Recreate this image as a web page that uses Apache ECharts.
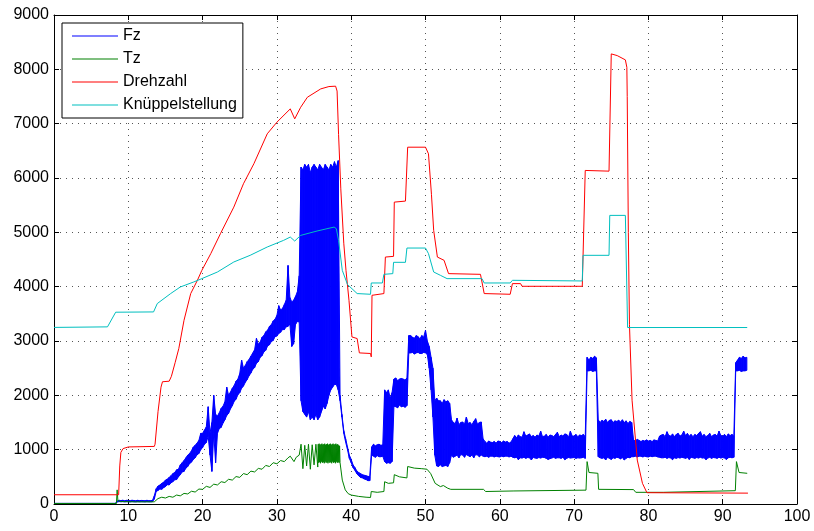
<!DOCTYPE html>
<html>
<head>
<meta charset="utf-8">
<script src="https://cdn.jsdelivr.net/npm/echarts@6/dist/echarts.min.js"></script>
<style>
  html, body { margin: 0; padding: 0; background: #fff; }
  #chart { width: 814px; height: 531px; }
</style>
</head>
<body>
<div id="chart"></div>
<script>
// Axis ranges and tick spacing
const xMin = 0, xMax = 100, xStep = 10;
const yMin = 0, yMax = 9000, yStep = 1000;

const seriesNames = ['Fz', 'Tz', 'Drehzahl', 'Knüppelstellung'];
const seriesColors = ['#0000ff', '#008000', '#ff0000', '#00bfbf'];

// Fz is a fast, noisy signal: stored as its min/max envelope,
// one value every 0.25 s starting at t = 0 (one line per second)
const fzStart = 0;
const fzStep = 0.25;
const fzLow = [
  3, 3, 3, 3,
  3, 3, 3, 3,
  3, 3, 3, 3,
  3, 3, 3, 3,
  3, 3, 3, 3,
  3, 3, 3, 3,
  3, 3, 3, 3,
  3, 3, 3, 3,
  3, 3, 35, 45,
  40, 44, 38, 42,
  42, 38, 44, 40,
  38, 43, 40, 42,
  41, 38, 43, 40,
  40, 42, 90, 230,
  250, 275, 270, 300,
  320, 355, 350, 390,
  410, 445, 450, 500,
  540, 590, 600, 660,
  690, 745, 770, 820,
  850, 905, 930, 1000,
  1040, 1100, 1130, 1250,
  900, 600, 1300, 760,
  1300, 1390, 1410, 1490,
  1550, 1630, 1670, 1750,
  1810, 1890, 1930, 2010,
  2050, 2130, 2170, 2240,
  2290, 2360, 2410, 2480,
  2510, 2590, 2620, 2700,
  2730, 2800, 2830, 2910,
  2930, 2990, 3010, 3080,
  3090, 3140, 3160, 3210,
  3210, 3260, 3270, 3310,
  2900, 2950, 3300, 3360,
  3350, 1900, 1700, 1650,
  1600, 1700, 1550, 1600,
  1550, 1650, 1550, 1600,
  1700, 1800, 1750, 1850,
  2000, 2100, 2150, 2200,
  2200, 2100, 1900, 1600,
  1300, 1140, 1000, 840,
  760, 670, 620, 560,
  520, 490, 480, 460,
  450, 430, 430, 900,
  880, 860, 890, 870,
  870, 880, 780, 750,
  760, 750, 780, 1800,
  1790, 1770, 1820, 1790,
  1800, 1780, 1810, 2780,
  2780, 2790, 2760, 2780,
  2790, 2770, 2770, 2790,
  2780, 2750, 2500, 2100,
  1600, 900, 700, 690,
  720, 690, 700, 710,
  690, 760, 900, 860,
  880, 900, 850, 910,
  900, 860, 910, 890,
  870, 900, 850, 910,
  900, 870, 900, 880,
  870, 880, 860, 880,
  880, 865, 880, 870,
  865, 880, 870, 880,
  880, 865, 880, 860,
  850, 860, 815, 850,
  845, 860, 840, 855,
  850, 810, 860, 845,
  840, 855, 845, 860,
  855, 840, 820, 835,
  845, 860, 840, 850,
  850, 840, 860, 815,
  840, 855, 845, 850,
  855, 840, 850, 845,
  850, 860, 840, 2450,
  2450, 2460, 2440, 2450,
  2450, 870, 850, 840,
  850, 810, 860, 840,
  820, 850, 840, 860,
  850, 830, 855, 810,
  840, 860, 850, 870,
  870, 880, 865, 880,
  880, 865, 880, 870,
  865, 880, 870, 880,
  880, 865, 860, 850,
  850, 860, 840, 855,
  845, 815, 850, 840,
  855, 845, 860, 850,
  840, 855, 820, 860,
  850, 840, 855, 845,
  860, 845, 850, 815,
  845, 860, 840, 855,
  850, 840, 860, 845,
  855, 845, 820, 850,
  860, 850, 860, 2450,
  2450, 2460, 2440, 2450,
  2450, 2460
];
const fzHigh = [
  12, 12, 12, 12,
  12, 12, 12, 12,
  12, 12, 12, 12,
  12, 12, 12, 12,
  12, 12, 12, 12,
  12, 12, 12, 12,
  12, 12, 12, 12,
  12, 12, 12, 12,
  12, 12, 55, 70,
  62, 70, 60, 68,
  66, 60, 70, 64,
  60, 68, 62, 66,
  64, 60, 68, 62,
  62, 66, 150, 280,
  330, 350, 380, 400,
  440, 460, 490, 520,
  560, 580, 630, 640,
  720, 760, 800, 850,
  900, 930, 980, 1050,
  1080, 1120, 1170, 1300,
  1300, 1360, 1420, 1790,
  1300, 1500, 2000, 1650,
  1620, 1680, 1760, 1800,
  1880, 2150, 2000, 2060,
  2130, 2180, 2260, 2300,
  2400, 2650, 2500, 2550,
  2620, 2660, 2720, 2780,
  2840, 3050, 2940, 2980,
  3070, 3100, 3170, 3200,
  3270, 3300, 3370, 3400,
  3470, 3650, 3570, 3600,
  3670, 3750, 4390, 3800,
  3720, 3750, 3820, 3900,
  4200, 6200, 6150, 6250,
  6200, 6250, 6100, 6200,
  6250, 6200, 6150, 6250,
  6200, 6150, 6250, 6200,
  6150, 6250, 6200, 6300,
  6200, 6320, 2000, 1650,
  1350, 1200, 1050, 900,
  820, 720, 670, 610,
  580, 560, 540, 530,
  520, 510, 500, 1050,
  1100, 1070, 1090, 1100,
  1080, 1090, 2100, 2050,
  2100, 1950, 2050, 2300,
  2320, 2270, 2300, 2310,
  2300, 2280, 2320, 3100,
  3100, 3070, 3050, 3100,
  3080, 3040, 3100, 3070,
  3200, 3000, 2900, 2700,
  2500, 1900, 1950, 1900,
  1900, 1850, 1920, 1880,
  1900, 1850, 1550, 1500,
  1480, 1580, 1460, 1500,
  1510, 1470, 1600, 1480,
  1500, 1460, 1520, 1570,
  1470, 1500, 1510, 1200,
  1150, 1120, 1160, 1140,
  1130, 1150, 1120, 1160,
  1150, 1130, 1160, 1140,
  1150, 1120, 1140, 1200,
  1260, 1220, 1270, 1240,
  1230, 1330, 1250, 1270,
  1290, 1240, 1260, 1230,
  1270, 1250, 1340, 1240,
  1250, 1280, 1230, 1270,
  1260, 1240, 1280, 1320,
  1240, 1270, 1250, 1290,
  1280, 1230, 1340, 1250,
  1250, 1280, 1240, 1270,
  1260, 1280, 1240, 2700,
  2650, 2700, 2680, 2720,
  2690, 1550, 1500, 1540,
  1520, 1560, 1500, 1540,
  1550, 1500, 1530, 1520,
  1540, 1510, 1550, 1500,
  1530, 1480, 1520, 1500,
  1180, 1160, 1190, 1170,
  1150, 1170, 1160, 1180,
  1160, 1170, 1150, 1180,
  1170, 1160, 1250, 1270,
  1280, 1240, 1330, 1260,
  1250, 1290, 1240, 1280,
  1300, 1250, 1270, 1340,
  1260, 1300, 1250, 1280,
  1240, 1280, 1260, 1300,
  1330, 1250, 1280, 1240,
  1260, 1300, 1240, 1270,
  1280, 1250, 1340, 1260,
  1250, 1280, 1240, 1290,
  1260, 1280, 1250, 2600,
  2650, 2700, 2680, 2720,
  2690, 2700
];

// Tz: [time s, value]
const tzPoints = [
  [0, 10], [8.4, 10], [8.5, 260], [8.6, 60], [9, 45], [11, 40], [13.5, 40],
  [14, 100], [14.5, 125], [15, 110], [15.5, 140], [16, 125], [16.5, 165],
  [17, 150], [17.5, 195], [18, 185], [18.5, 235], [19, 220], [19.5, 275],
  [20, 270], [20.5, 325], [21, 305], [21.5, 365], [22, 350], [22.5, 410],
  [23, 395], [23.5, 455], [24, 440], [24.5, 505], [25, 490], [25.5, 560],
  [26, 540], [26.5, 605], [27, 590], [27.5, 655], [28, 640], [28.5, 710],
  [29, 690], [29.5, 760], [30, 740], [30.5, 800], [31, 780], [31.5, 850],
  [31.8, 880], [32.3, 780], [32.6, 860], [33, 900],
  [33.25, 1100], [33.5, 650], [33.75, 1080], [34, 700], [34.25, 1100],
  [34.5, 640], [34.75, 1090], [35, 720], [35.25, 1100], [35.5, 680],
  [35.5625, 1100], [35.625, 760], [35.6875, 1110], [35.75, 770],
  [35.8125, 1090], [35.875, 750], [35.9375, 1100], [36, 780],
  [36.0625, 1110], [36.125, 760], [36.1875, 1090], [36.25, 770],
  [36.3125, 1100], [36.375, 750], [36.4375, 1110], [36.5, 780],
  [36.5625, 1090], [36.625, 760], [36.6875, 1100], [36.75, 770],
  [36.8125, 1110], [36.875, 750], [36.9375, 1090], [37, 780],
  [37.0625, 1100], [37.125, 760], [37.1875, 1110], [37.25, 770],
  [37.3125, 1090], [37.375, 750], [37.4375, 1100], [37.5, 780],
  [37.5625, 1110], [37.625, 760], [37.6875, 1090], [37.75, 770],
  [37.8125, 1100], [37.875, 750], [37.9375, 1110], [38, 780],
  [38.0625, 1090], [38.125, 760], [38.1875, 1100], [38.25, 770],
  [38.3125, 1080], [38.375, 760], [38.4375, 1070], [38.5, 760],
  [38.8, 440], [39.2, 260], [39.6, 190], [40, 165], [41, 140], [42, 125],
  [42.6, 120], [42.7, 230], [43.5, 215], [44.4, 230], [44.5, 410], [45, 380],
  [45.7, 390], [45.8, 540], [46.5, 500], [47.5, 480], [47.6, 690], [48.5, 660],
  [49.5, 650], [50.2, 640], [50.7, 560], [51.3, 380], [52, 320], [52.4, 340],
  [53, 290], [53.4, 270], [57.8, 270], [58.1, 230], [61.9, 240], [62.1, 270],
  [71.6, 255], [71.75, 780], [72, 580], [73.2, 565], [73.3, 270], [78, 265],
  [78.3, 215], [82, 215], [82.2, 235], [91.7, 245], [91.85, 780], [92.2, 580],
  [93.3, 565]
];

// Drehzahl: [time s, value]
const drehzahlPoints = [
  [0, 170], [8.7, 170], [8.85, 700], [9.0, 950], [9.3, 1020], [10, 1050],
  [13.5, 1060], [13.6, 1100], [14.0, 1700], [14.4, 2150], [14.6, 2250],
  [15.5, 2260], [15.8, 2350], [16.3, 2600], [16.8, 2862], [17.5, 3382],
  [18.4, 3873], [19.3, 4117], [19.9, 4300], [21.1, 4608], [22.4, 4975],
  [24.2, 5464], [25.5, 5894], [26.9, 6262], [28.7, 6813], [30.0, 7027],
  [31.8, 7272], [32.4, 7089], [33.2, 7302], [34.1, 7486], [35.9, 7640],
  [37.0, 7683], [37.9, 7690], [38.1, 7600], [38.3, 6800], [38.6, 5800],
  [39.0, 4800], [39.3, 4300], [39.7, 3750], [40.1, 3075], [40.8, 3045],
  [41.1, 2781], [42.6, 2770], [42.7, 2708], [42.8, 3841], [44.4, 3873],
  [44.6, 4545], [45.7, 4558], [45.8, 5556], [47.3, 5575], [47.6, 6567],
  [50.0, 6567], [50.4, 6446], [50.8, 5700], [51.1, 5036], [51.6, 4545],
  [52.5, 4485], [53.1, 4240], [57.4, 4227], [57.6, 4209], [57.9, 3873],
  [61.4, 3860], [61.7, 4056], [62.8, 4056], [63.0, 4007], [71.1, 4007],
  [71.5, 6139], [74.7, 6126], [75.0, 8284], [75.8, 8253], [76.9, 8174],
  [77.1, 8037], [77.15, 7500], [77.3, 5000], [77.45, 3300], [77.8, 1911],
  [78.5, 809], [79.2, 380], [79.8, 208], [93.4, 200]
];

// Knüppelstellung: [time s, value]
const knueppelPoints = [
  [0, 3250], [7.2, 3260], [8.3, 3530], [13.4, 3535], [13.9, 3689],
  [15.7, 3873], [17.0, 3994], [18.8, 4086], [19.9, 4148], [22.0, 4270],
  [24.2, 4454], [26.4, 4577], [28.7, 4730], [30.9, 4852], [31.8, 4913],
  [32.4, 4840], [33.2, 4944], [35.4, 5024], [37.7, 5097], [38.0, 5067],
  [38.3, 4852], [38.8, 4300], [39.5, 4040], [40.8, 3873], [42.6, 3860],
  [42.7, 4068], [44.2, 4068], [44.4, 4227], [45.6, 4240], [45.7, 4448],
  [47.3, 4448], [47.5, 4711], [50.0, 4711], [50.4, 4608], [51.1, 4270],
  [52.0, 4209], [52.9, 4148], [57.6, 4148], [57.9, 4068], [61.4, 4068],
  [61.7, 4117], [71.1, 4105], [71.2, 4577], [74.7, 4577], [74.8, 5312],
  [76.9, 5312], [77.2, 3248], [93.3, 3248]
];

// Fz envelope segments: [t0, low0, high0, t1, low1, high1]
const fzTime = fzLow.map((_, i) => fzStart + i * fzStep);
const fzSegments = fzTime.slice(0, -1).map((t, i) => [
  t, fzLow[i], fzHigh[i], fzTime[i + 1], fzLow[i + 1], fzHigh[i + 1]
]);

const fontFamily = '"Liberation Sans", Arial, Helvetica, sans-serif';
const gridLine = { show: true, lineStyle: { color: '#555', width: 1, type: [1, 5] } };
const frameLine = { show: true, onZero: false, lineStyle: { color: '#000', width: 1 } };
const innerTicks = { show: true, inside: true, length: 5, lineStyle: { color: '#000' } };

function lineSeries(name, data, color, z) {
  return {
    name,
    type: 'line',
    data,
    showSymbol: false,
    symbol: 'none',
    sampling: null,
    lineStyle: { color, width: 1 },
    itemStyle: { color },
    emphasis: { disabled: true },
    z
  };
}

// Filled band between the envelope edges, one quad per sample step
function renderFzSegment(params, api) {
  const a = api.coord([api.value(0), api.value(1)]);
  const b = api.coord([api.value(3), api.value(4)]);
  const c = api.coord([api.value(3), api.value(5)]);
  const d = api.coord([api.value(0), api.value(2)]);
  return {
    type: 'polygon',
    shape: { points: [a, b, c, d] },
    style: { fill: seriesColors[0], stroke: seriesColors[0], lineWidth: 1, lineJoin: 'round' }
  };
}

const chart = echarts.init(document.getElementById('chart'), null, { renderer: 'canvas' });

chart.setOption({
  animation: false,
  backgroundColor: '#fff',
  grid: { left: 54, right: 17, top: 15, bottom: 27, containLabel: false },
  legend: {
    data: seriesNames,
    orient: 'vertical',
    left: 62,
    top: 23,
    padding: [5, 6, 5, 10],
    itemGap: 7,
    itemWidth: 46,
    itemHeight: 1,
    icon: 'rect',
    backgroundColor: '#fff',
    borderColor: '#000',
    borderWidth: 1,
    textStyle: { fontFamily, fontSize: 16, color: '#000', lineHeight: 16 }
  },
  xAxis: [
    {
      type: 'value', min: xMin, max: xMax, interval: xStep, position: 'bottom',
      axisLine: frameLine, axisTick: innerTicks, splitLine: gridLine,
      axisLabel: { fontFamily, fontSize: 16, color: '#000', margin: 5 }
    },
    {
      type: 'value', min: xMin, max: xMax, interval: xStep, position: 'top',
      axisLine: frameLine, axisTick: innerTicks, splitLine: { show: false },
      axisLabel: { show: false }
    }
  ],
  yAxis: [
    {
      type: 'value', min: yMin, max: yMax, interval: yStep, position: 'left',
      axisLine: frameLine, axisTick: innerTicks, splitLine: gridLine,
      axisLabel: { fontFamily, fontSize: 16, color: '#000', margin: 5, formatter: v => String(v) }
    },
    {
      type: 'value', min: yMin, max: yMax, interval: yStep, position: 'right',
      axisLine: frameLine, axisTick: innerTicks, splitLine: { show: false },
      axisLabel: { show: false }
    }
  ],
  series: [
    {
      name: 'Fz',
      type: 'custom',
      coordinateSystem: 'cartesian2d',
      xAxisIndex: 0,
      yAxisIndex: 0,
      data: fzSegments,
      encode: { x: [0, 3], y: [1, 2, 4, 5] },
      renderItem: renderFzSegment,
      itemStyle: { color: seriesColors[0] },
      clip: true,
      z: 2
    },
    lineSeries('Tz', tzPoints, seriesColors[1], 3),
    lineSeries('Drehzahl', drehzahlPoints, seriesColors[2], 4),
    lineSeries('Knüppelstellung', knueppelPoints, seriesColors[3], 5)
  ]
});
</script>
</body>
</html>
